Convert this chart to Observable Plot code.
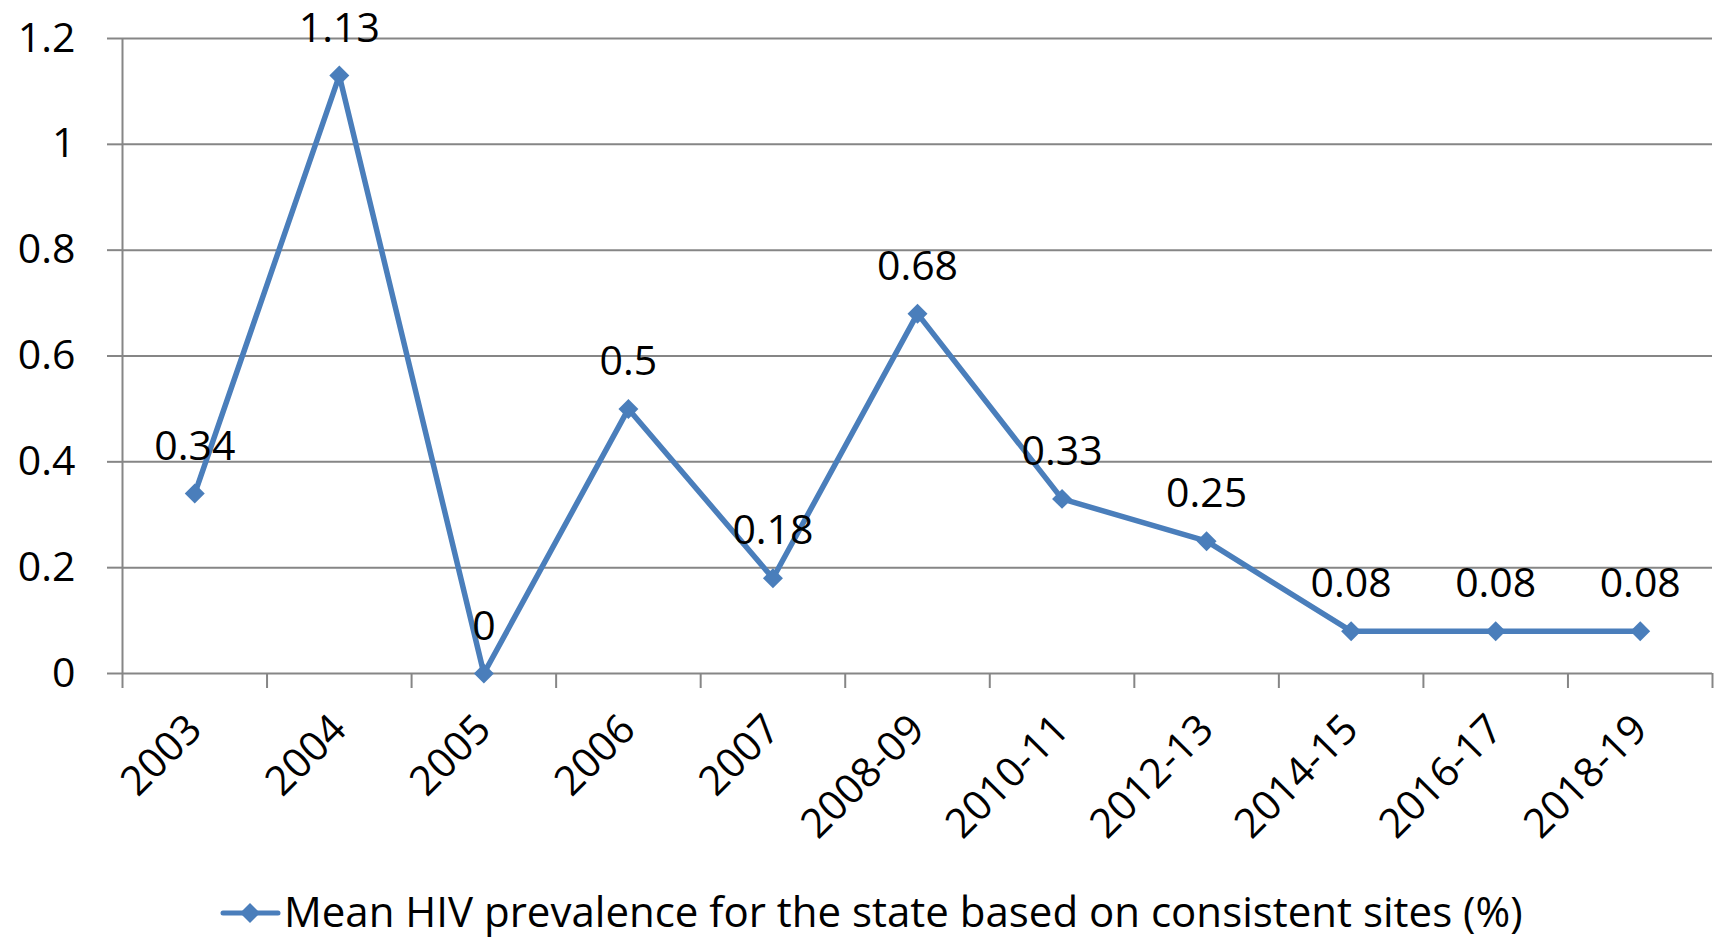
<!DOCTYPE html>
<html>
<head>
<meta charset="utf-8">
<script src="https://cdn.jsdelivr.net/npm/d3@7"></script>
<script src="https://cdn.jsdelivr.net/npm/@observablehq/plot@0.6"></script>
<style>
  html, body { margin: 0; padding: 0; background: #ffffff; overflow: hidden; }
  #wrap { position: relative; width: 1714px; height: 938px; font-family: "Open Sans", sans-serif; overflow: hidden; }
  #legend { position: absolute; left: 0; top: 858px; }
</style>
</head>
<body>
<div id="wrap"><div id="chart"></div><div id="legend"></div></div>
<script>
const categories = ["2003", "2004", "2005", "2006", "2007", "2008-09", "2010-11", "2012-13", "2014-15", "2016-17", "2018-19"];
const values = [0.34, 1.13, 0, 0.5, 0.18, 0.68, 0.33, 0.25, 0.08, 0.08, 0.08];
const yTicks = [0, 0.2, 0.4, 0.6, 0.8, 1, 1.2];
const seriesName = "Mean HIV prevalence for the state based on consistent sites (%)";

const lineColor = "#4A7EBB";
const gridColor = "#868686";
const fontSize = 41;

const data = categories.map((c, i) => ({cat: c, pos: i + 0.5, value: values[i]}));
const boundaries = d3.range(categories.length + 1);
const centers = categories.map((c, i) => i + 0.5);

const chart = Plot.plot({
  width: 1714,
  height: 858,
  marginLeft: 122,
  marginRight: 2,
  marginTop: 38,
  marginBottom: 185,
  style: {fontFamily: "'Open Sans', sans-serif", fontSize: fontSize + "px", color: "black", background: "white", overflow: "visible"},
  x: {type: "linear", domain: [0, categories.length]},
  y: {domain: [0, 1.2]},
  marks: [
    Plot.gridY(yTicks, {stroke: gridColor, strokeOpacity: 1, strokeWidth: 2}),
    Plot.axisY(yTicks, {tickSize: 15, tickPadding: 32, stroke: gridColor, strokeWidth: 2, fill: "black", fontSize: fontSize, tickFormat: d => String(d), label: null}),
    Plot.ruleX([0], {stroke: gridColor, strokeWidth: 2}),
    Plot.axisX(boundaries, {tickSize: 15, stroke: gridColor, strokeWidth: 2, tickFormat: () => "", label: null}),
    Plot.axisX(centers, {tickSize: 0, tickPadding: 49, tickRotate: -45, fill: "black", fontSize: fontSize, tickFormat: d => categories[Math.floor(d)], label: null}),
    Plot.line(data, {x: "pos", y: "value", stroke: lineColor, strokeWidth: 5.5, strokeLinejoin: "round"}),
    Plot.dot(data, {x: "pos", y: "value", symbol: "diamond2", r: 9, fill: lineColor, stroke: "none"}),
    Plot.text(data, {x: "pos", y: "value", text: d => String(d.value), dy: -47, fill: "black", fontSize: fontSize})
  ]
});
document.getElementById("chart").appendChild(chart);

// Legend below the chart
const lg = d3.select("#legend").append("svg").attr("width", 1714).attr("height", 84).style("overflow", "visible");
lg.append("line").attr("x1", 223).attr("x2", 278).attr("y1", 55).attr("y2", 55)
  .attr("stroke", lineColor).attr("stroke-width", 5).attr("stroke-linecap", "round");
lg.append("path").attr("transform", "translate(250,55)").attr("d", d3.symbol(d3.symbolDiamond2, 255)())
  .attr("fill", lineColor);
lg.append("text").attr("x", 284).attr("y", 69).attr("font-family", "'Open Sans', sans-serif")
  .attr("font-size", 42).attr("fill", "black").text(seriesName);
</script>
</body>
</html>
